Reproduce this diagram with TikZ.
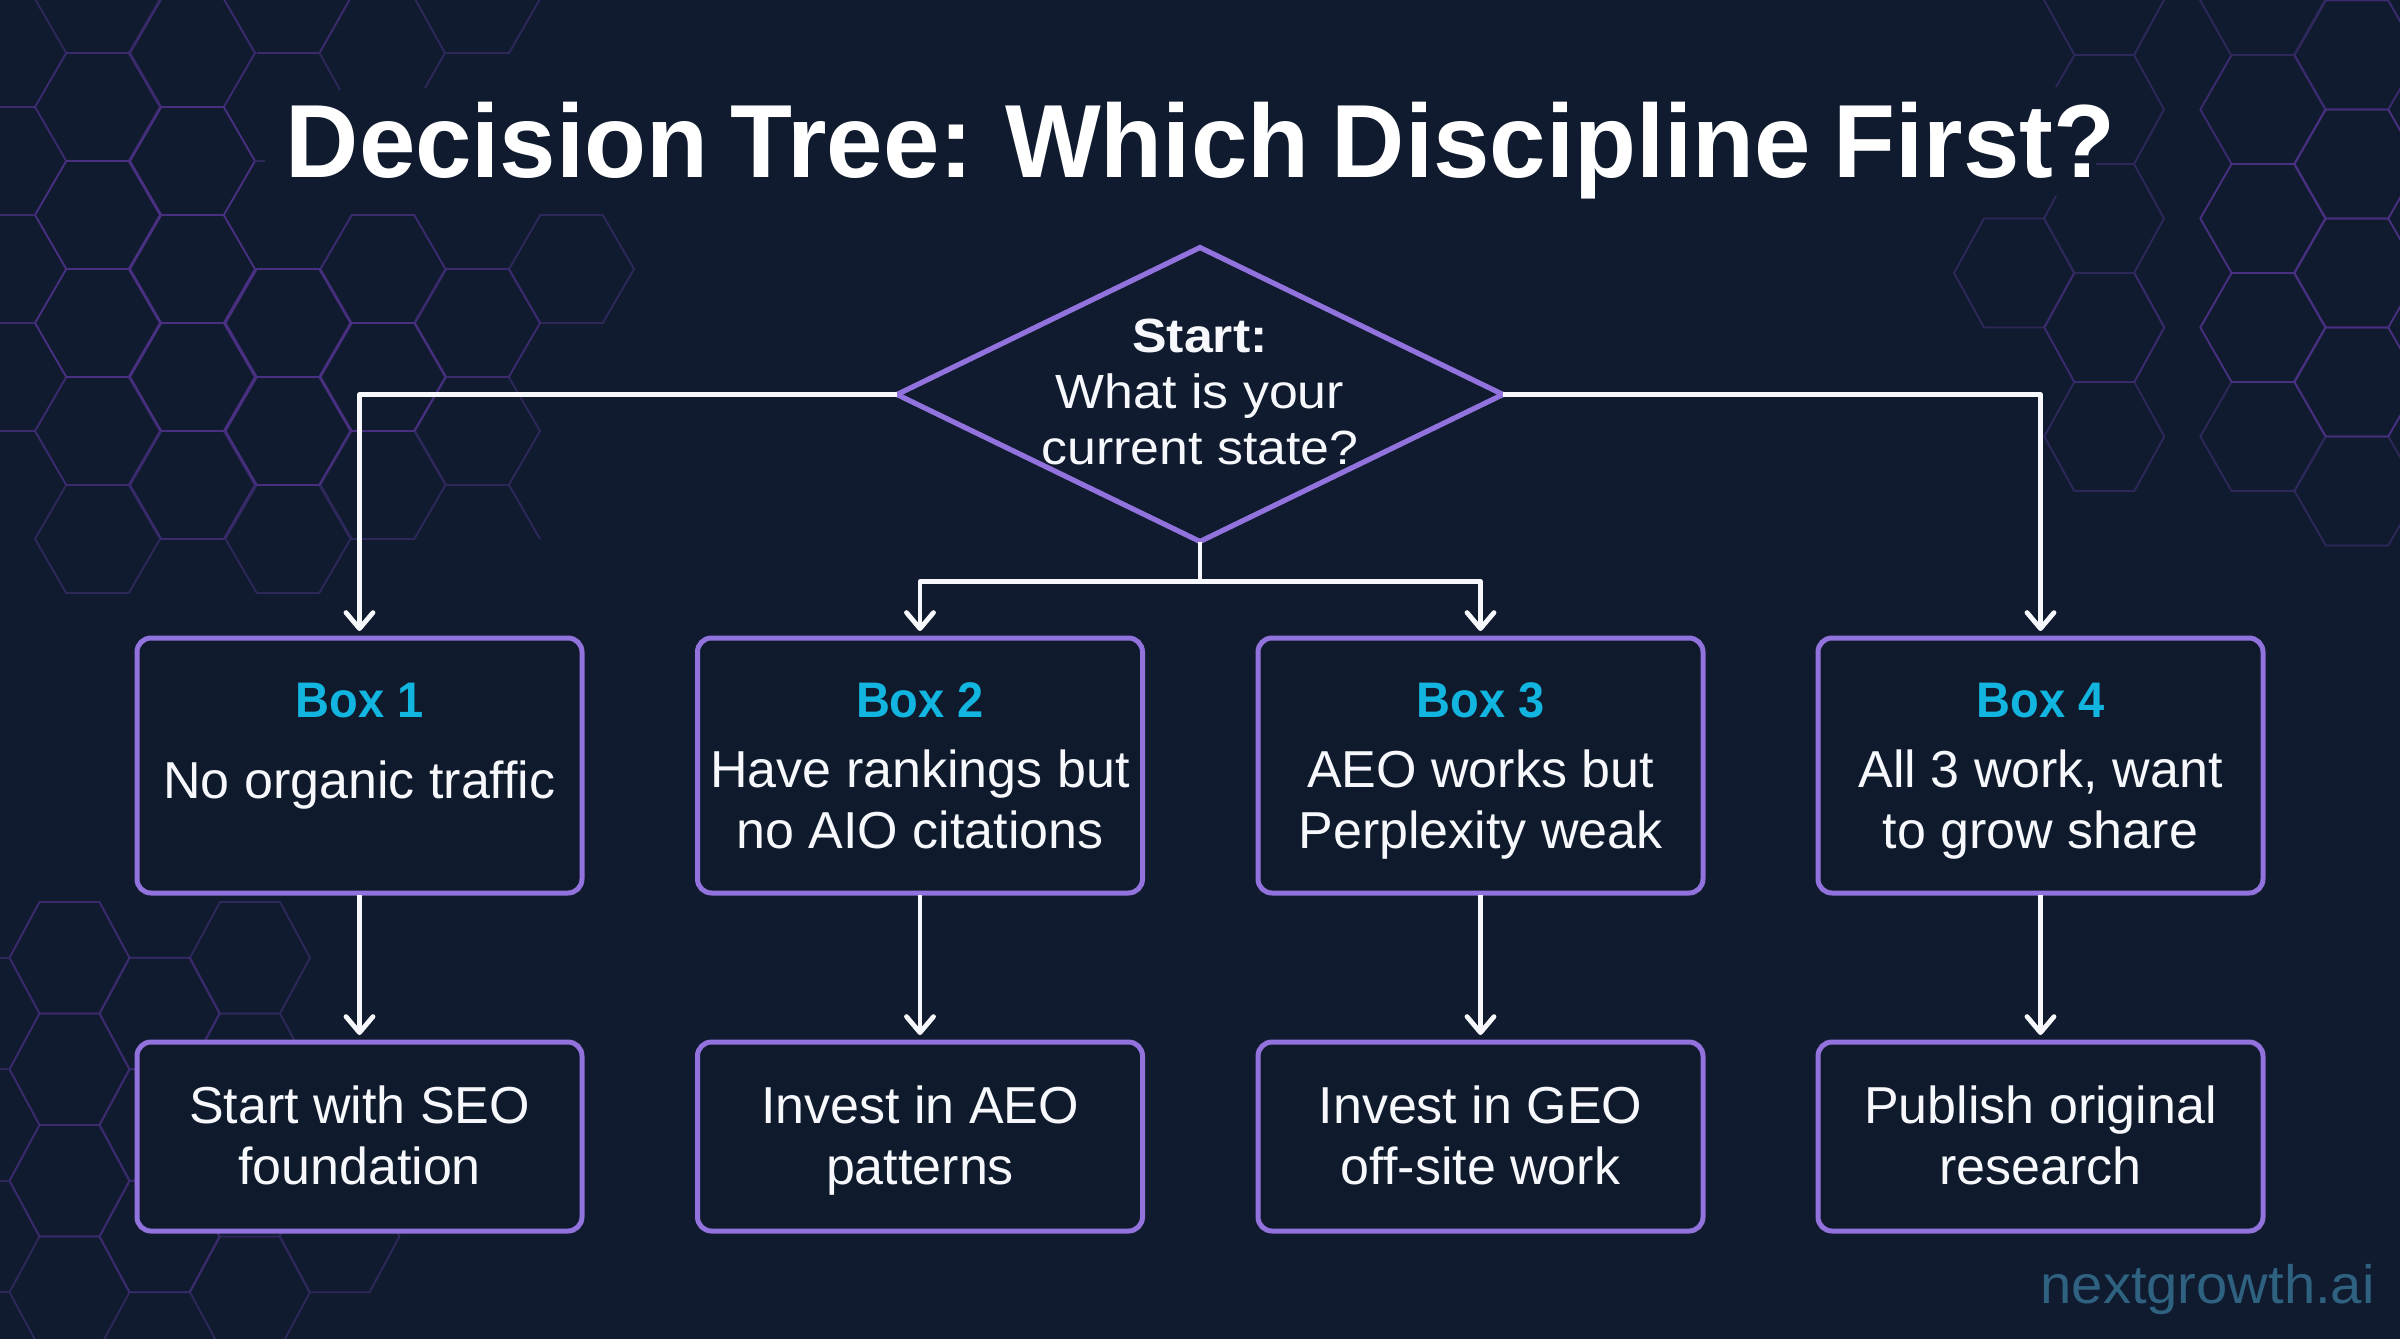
\documentclass[tikz,border=0pt]{standalone}
\usepackage{fontspec}
\setmainfont{Liberation Sans}
\newfontfamily\titlefont[FakeStretch=0.975,WordSpace=0.8]{Liberation Sans}
\newfontfamily\diafont[FakeStretch=1.08]{Liberation Sans}
\newfontfamily\headfont[FakeStretch=0.94]{Liberation Sans}
\newfontfamily\wmfont[FakeStretch=1.04]{Liberation Sans}
\usetikzlibrary{arrows.meta,shapes.geometric,calc}
\definecolor{bgc}{HTML}{101B2F}
\definecolor{boxfillc}{HTML}{0F1A2D}
\definecolor{pur}{HTML}{9272DC}
\definecolor{cyanh}{HTML}{12B5E0}
\definecolor{txt}{HTML}{F6F8FB}
\definecolor{wm}{HTML}{2F6180}
\definecolor{hA}{HTML}{482F80}
\definecolor{hB}{HTML}{3B2B6E}
\definecolor{hC}{HTML}{2D2859}
\newcommand{\hexcell}[5]{% cx cy r hh colour
  \draw[draw=#5,line width=.95pt,line join=round]
    ({#1-#3},{#2}) -- ({#1-#3/2},{#2-#4}) -- ({#1+#3/2},{#2-#4}) -- ({#1+#3},{#2}) -- ({#1+#3/2},{#2+#4}) -- ({#1-#3/2},{#2+#4}) -- cycle;}
\tikzset{
  x=0.5pt,y=-0.5pt,
  box/.style={draw=pur,fill=boxfillc,line width=2.5pt,rounded corners=7pt,outer sep=0pt,inner sep=0pt,
    minimum width=222.5pt,align=center,text=txt,font=\fontsize{26}{30.5}\selectfont},
  topbox/.style={box,minimum height=127.5pt},
  lowbox/.style={box,minimum height=94.5pt},
  decision/.style={diamond,draw=pur,fill=bgc,line width=2.6pt,outer sep=0pt,inner sep=0pt,
    minimum width=303pt,minimum height=147pt,shape aspect=2.06},
  dlabel/.style={align=center,text=txt,inner sep=0pt,font=\diafont\fontsize{24}{28}\selectfont},
  conn/.style={draw=txt,line width=2.4pt,line join=round},
  arr/.style={conn,shorten >=3.5pt,-{Straight Barb[length=8pt,width=13.5pt,round,line width=2.4pt]}},
}
\newcommand{\ls}{\rule[-7pt]{0pt}{23pt}}
\newcommand{\lsf}{\rule[-7pt]{0pt}{31pt}}
\newcommand{\boxhead}[1]{{\headfont\fontsize{25}{30.5}\bfseries\selectfont\color{cyanh}#1}\lsf}
\begin{document}
\begin{tikzpicture}
\useasboundingbox (0,0) rectangle (2400,1339);
\fill[bgc] (0,0) rectangle (2400,1339);
\begin{scope}
\clip (0,0) rectangle (2400,1339);
% ---- upper-left honeycomb: rows y=54n-1
\foreach \cx/\n/\k in {97.5/10/hC, 288/10/hC, 477.5/8/hC, 571.5/5/hC, 383/9/hC,
    97.5/0/hC, 97.5/8/hB, 477.5/6/hB, 383/5/hB, 192.5/9/hB, 97.5/2/hB, 192.5/1/hB,
    97.5/4/hA, 97.5/6/hA, 192.5/3/hA, 192.5/5/hA, 192.5/7/hA, 288/6/hA, 288/8/hA, 383/7/hA}{
  \hexcell{\cx}{54*\n-1}{62.5}{54}{\k}
}
\draw[hB,line width=.95pt] (0,107) -- (35,107) (0,215) -- (35,215) (0,323) -- (35,323) (0,431) -- (35,431);
\draw[hB,line width=.95pt] (350,-1) -- (319.5,53) -- (256.5,53);
\draw[hC,line width=.95pt] (319.5,53) -- (340,90);
\draw[hC,line width=.95pt] (255,161) -- (265,161);
\draw[hC,line width=.95pt] (415,-1) -- (445,53) -- (509,53) -- (540,-1) (445,53) -- (425,88);
\draw[hC,line width=.95pt] (509,485) -- (540,539);
% ---- upper-right honeycomb
\foreach \cx/\n/\r/\k in {2014/5/60/hC, 2104.3/8/60/hC, 2104.3/6/60/hB,
    2262.8/8/62.5/hC, 2357/9/62.5/hC, 2357/1/62.5/hB, 2262.8/2/62.5/hB,
    2262.8/4/62.5/hA, 2262.8/6/62.5/hA, 2357/3/62.5/hA, 2357/5/62.5/hA, 2357/7/62.5/hA}{
  \hexcell{\cx}{54.5*\n+0.5}{\r}{54.5}{\k}
}
\draw[hC,line width=.95pt] (2044,0) -- (2074.5,55) -- (2134,55) -- (2164,0) (2074.5,55) -- (2056,87);
\draw[hC,line width=.95pt] (2134,55) -- (2164,109.5) -- (2134,164) -- (2096,164);
\draw[hC,line width=.95pt] (2134,164) -- (2164,218.5) -- (2134,273) -- (2074.5,273) -- (2044,218.5) -- (2056,196);
\draw[hC,line width=.95pt] (2200,0) -- (2231,55) -- (2294,55) -- (2325,0);
% ---- lower-left honeycomb: rows y=902+55.75n
\foreach \cx/\n/\k in {250/1/hC, 250/7/hC, 339.5/6/hC, 250/3/hC, 69.5/7/hC,
    159.5/2/hB, 159.5/4/hB, 159.5/6/hB, 69.5/1/hB, 69.5/3/hB, 69.5/5/hB}{
  \hexcell{\cx}{902+55.75*\n}{60}{55.75}{\k}
}
\draw[hC,line width=.95pt] (0,958) -- (9.5,958) (0,1069) -- (9.5,1069) (0,1181) -- (9.5,1181) (0,1292) -- (9.5,1292);
\end{scope}
% ---- title
\node[anchor=base,text=white,inner sep=0pt,font=\titlefont\fontsize{52}{60}\bfseries\selectfont] (title) at (1200.5,177) {Decision Tree: Which Discipline First?};
% ---- decision
\node[decision] (d) at (1200,394.5) {};
\node[dlabel] (dtext) at (1200,392) {\textbf{Start:}\\What is your\\current state?};
% ---- boxes
\node[topbox] (b1) at (359.5,765.5) {\boxhead{Box 1}\\[10pt]No organic traffic\rule[-32pt]{0pt}{23pt}};
\node[topbox] (b2) at (920,765.5) {\boxhead{Box 2}\\[4.5pt]Have rankings but\ls\\no AIO citations\ls};
\node[topbox] (b3) at (1480.5,765.5) {\boxhead{Box 3}\\[4.5pt]AEO works but\ls\\Perplexity weak\ls};
\node[topbox] (b4) at (2040.5,765.5) {\boxhead{Box 4}\\[4.5pt]All 3 work, want\ls\\to grow share\ls};
\node[lowbox] (r1) at (359.5,1136.5) {Start with SEO\lsf\\foundation\ls};
\node[lowbox] (r2) at (920,1136.5) {Invest in AEO\lsf\\patterns\ls};
\node[lowbox] (r3) at (1480.5,1136.5) {Invest in GEO\lsf\\off-site work\ls};
\node[lowbox] (r4) at (2040.5,1136.5) {Publish original\lsf\\research\ls};
% ---- connectors
\coordinate (j) at (1200,581.5);
\draw[arr] (d.west) -| (b1.north);
\draw[arr] (d.east) -| (b4.north);
\draw[conn] (d.south) -- (j);
\draw[arr] (j) -| (b2.north);
\draw[arr] (j) -| (b3.north);
\foreach \i in {1,2,3,4}{
  \draw[arr] (b\i.south) ++(0,2) -- (r\i.north);
}
% ---- watermark
\node[anchor=base east,text=wm,inner sep=0pt,font=\wmfont\fontsize{27}{30}\selectfont] (wmk) at (2375,1303) {nextgrowth.ai};
\end{tikzpicture}
\end{document}
